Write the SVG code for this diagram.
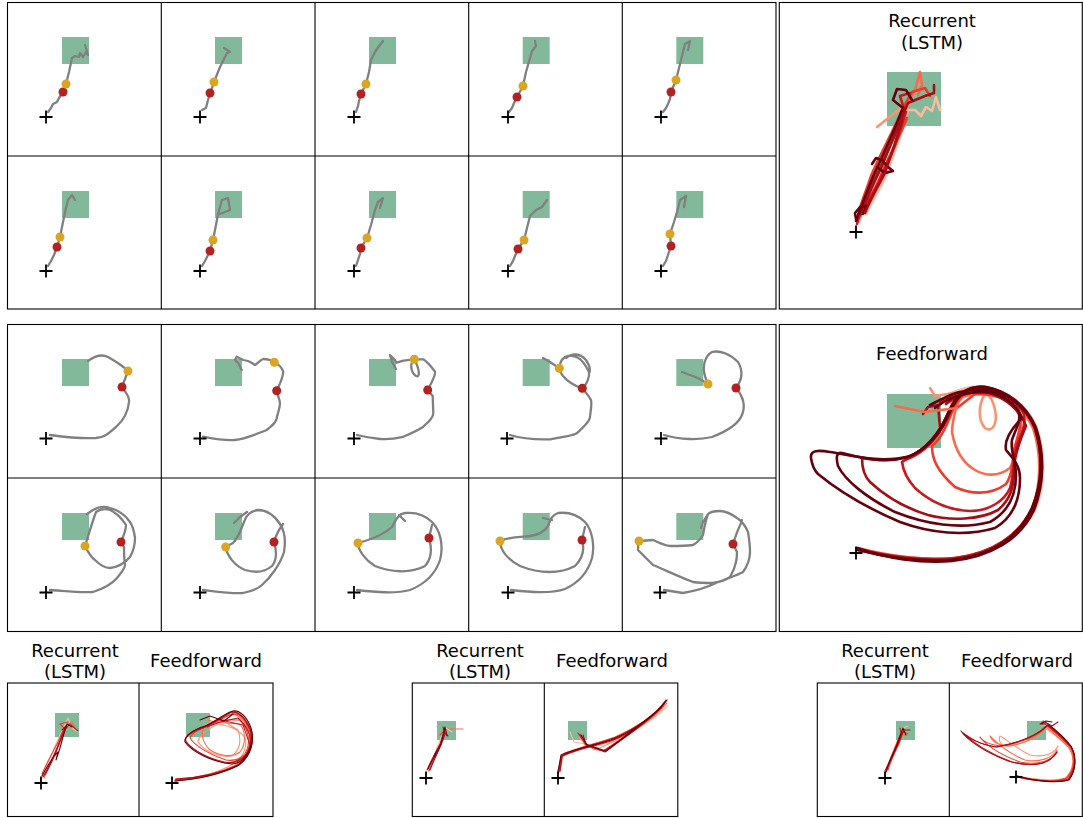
<svg xmlns="http://www.w3.org/2000/svg" xmlns:xlink="http://www.w3.org/1999/xlink" width="1083" height="818" viewBox="0 0 1083 818">
<style>
.frame{fill:none;stroke:#000;stroke-width:1.1}
.tr{fill:none;stroke:#808080;stroke-width:2.3;stroke-linejoin:round;stroke-linecap:round}
.goal{fill:#82b99a}
.pa{fill:#daa520}
.pb{fill:#b22222}
.plus{fill:none;stroke:#000;stroke-width:1.8}
.t{font-family:"DejaVu Sans",Verdana,sans-serif;font-size:18px;text-anchor:middle;fill:#000}
.r{fill:none;stroke-linejoin:round;stroke-linecap:round}
.w{stroke-width:2.6}
.n{stroke-width:1.1}
.c1{stroke:#fcbba1}.c2{stroke:#fc9272}.c3{stroke:#fb6a4a}.c4{stroke:#ef3b2c}.c5{stroke:#cb181d}.c6{stroke:#a50f15}.c7{stroke:#67000d}
</style>
<defs>
<path id="pl" class="plus" d="M-6.5,0H6.5M0,-6.5V6.5"/>
</defs>
<rect width="1083" height="818" fill="#fff"/>

<g id="frames">
<rect class="frame" x="7.5" y="2.5" width="768.5" height="306.5"/>
<path class="frame" d="M161.3,2.5V309M315,2.5V309M468.7,2.5V309M622.3,2.5V309M7.5,156H776"/>
<rect class="frame" x="7.5" y="324.5" width="768.5" height="307"/>
<path class="frame" d="M161.3,324.5V631.5M315,324.5V631.5M468.7,324.5V631.5M622.3,324.5V631.5M7.5,478H776"/>
<rect class="frame" x="779.3" y="2.5" width="303" height="306.5"/>
<rect class="frame" x="779.3" y="324.5" width="303" height="307"/>
<rect class="frame" x="7.5" y="683" width="265.5" height="133.5"/>
<path class="frame" d="M139,683V816.5"/>
<rect class="frame" x="412.3" y="683" width="265.5" height="133.5"/>
<path class="frame" d="M544.3,683V816.5"/>
<rect class="frame" x="817.3" y="683" width="265" height="133.5"/>
<path class="frame" d="M949.3,683V816.5"/>
</g>

<!-- top block row 1 -->
<g id="t1"><rect class="goal" x="62" y="37" width="27" height="27"/><path class="tr" d="M48,112L51,108L53,104L57,102L59,98L61,95L63,92L66,84L69,72L72,58L75,56L79,57L80,53L83,57L86,52L88,55L85,45"/><circle class="pb" cx="63" cy="92" r="4.5"/><circle class="pa" cx="66" cy="84" r="4.5"/><use href="#pl" x="46" y="117"/></g>
<g id="t2"><rect class="goal" x="215" y="37" width="27" height="27"/><path class="tr" d="M202,110L206,108L208,100L210,94L214,82L220,67L227,53L230,52L224,48"/><circle class="pb" cx="210" cy="93" r="4.5"/><circle class="pa" cx="214" cy="82" r="4.5"/><use href="#pl" x="200" y="117"/></g>
<g id="t3"><rect class="goal" x="369" y="37" width="27" height="27"/><path class="tr" d="M356,112L358,106L359,101L361,94L366,84L369,72L371,60L375,52L379,46L383,41L380,45"/><circle class="pb" cx="361" cy="94" r="4.5"/><circle class="pa" cx="366" cy="84" r="4.5"/><use href="#pl" x="354" y="117"/></g>
<g id="t4"><rect class="goal" x="522.7" y="37" width="27" height="27"/><path class="tr" d="M509,112L512,108L514,103L517,97L523,86L526,72L530,58L532,51L536,46L535,41"/><circle class="pb" cx="517" cy="97" r="4.5"/><circle class="pa" cx="523" cy="86" r="4.5"/><use href="#pl" x="508" y="117"/></g>
<g id="t5"><rect class="goal" x="676.3" y="37" width="27" height="27"/><path class="tr" d="M663,112L666,108L668,104L670,99L671,92L676,80L680,64L683,52L685,44L690,41L688,50"/><circle class="pb" cx="671" cy="92" r="4.5"/><circle class="pa" cx="676" cy="80" r="4.5"/><use href="#pl" x="661" y="117"/></g>
<!-- top block row 2 -->
<g id="t6"><rect class="goal" x="62" y="191" width="27" height="27"/><path class="tr" d="M48,266L51,261L54,255L57,247L60,237L63,222L66,208L68,200L72,195L75,200"/><circle class="pb" cx="57" cy="247" r="4.5"/><circle class="pa" cx="60" cy="237" r="4.5"/><use href="#pl" x="46" y="271"/></g>
<g id="t7"><rect class="goal" x="215" y="191" width="27" height="27"/><path class="tr" d="M202,266L205,261L207,257L210,251L213,240L216,225L218,214L222,200L228,198L230,210L220,214"/><circle class="pb" cx="210" cy="251" r="4.5"/><circle class="pa" cx="213" cy="240" r="4.5"/><use href="#pl" x="200" y="271"/></g>
<g id="t8"><rect class="goal" x="369" y="191" width="27" height="27"/><path class="tr" d="M356,266L358,260L360,254L361,248L367,238L371,225L375,210L378,202L383,198L380,208"/><circle class="pb" cx="361" cy="248" r="4.5"/><circle class="pa" cx="367" cy="238" r="4.5"/><use href="#pl" x="354" y="271"/></g>
<g id="t9"><rect class="goal" x="522.7" y="191" width="27" height="27"/><path class="tr" d="M510,266L513,261L515,256L518,249L524,240L527,228L530,216L536,210L542,207L547,200"/><circle class="pb" cx="518" cy="249" r="4.5"/><circle class="pa" cx="524" cy="240" r="4.5"/><use href="#pl" x="508" y="271"/></g>
<g id="t10"><rect class="goal" x="676.3" y="191" width="27" height="27"/><path class="tr" d="M663,266L666,261L668,255L671,246L670,234L674,222L677,212L680,200L686,196L684,207"/><circle class="pb" cx="671" cy="246" r="4.5"/><circle class="pa" cx="670" cy="234" r="4.5"/><use href="#pl" x="661" y="271"/></g>

<!-- middle block row 1 -->
<g id="m1"><rect class="goal" x="62" y="359" width="27" height="27"/><path class="tr" d="M50,435C65,437 80,439 96,438C106,437 110,432 116,427C124,420 128,412 129,402C130,396 125,392 122,387L128,371C122,365 115,361 108,357C102,354 96,355 88,361"/><circle class="pb" cx="122" cy="387" r="4.5"/><circle class="pa" cx="128" cy="371" r="4.5"/><use href="#pl" x="46" y="438.5"/></g>
<g id="m2"><rect class="goal" x="215" y="359" width="27" height="27"/><path class="tr" d="M203,436.7C215,439 225,441 235,440C246,439 256,434 266.7,430C274,424 277,421 277,416.7C279,410 280,406 280,403C279,397 277,394 276.7,390.7C279,386 283,377 283.3,371.7C282,368 278,364 274.3,362.3C270,359 266,359 263.3,359C260,360 257,364 255,365C253,364 251,362 248,361L243.3,360L236.7,356.7L235,360L238.3,363.3L241.7,370"/><circle class="pb" cx="276.7" cy="390.7" r="4.5"/><circle class="pa" cx="274.3" cy="362.3" r="4.5"/><use href="#pl" x="200" y="438.5"/></g>
<g id="m3"><rect class="goal" x="369" y="359" width="27" height="27"/><path class="tr" d="M357,435C365,437 370,438 380,439C392,440 398,438 403.3,436.7C412,433 420,429 423.3,426.7C430,421 433.3,416 433.3,413.3L432.7,396L427.7,390C432,382 436,375 435,371.7C430,365 426,361 423.3,359.3L414.3,359.3C410,362 410,372 416,376C420,378 420,370 414.3,359.3L403.3,360.7L396.7,362.7L393.3,358.3L390,355L392,362L396,369"/><circle class="pb" cx="427.7" cy="390" r="4.5"/><circle class="pa" cx="414.3" cy="359.3" r="4.5"/><use href="#pl" x="354" y="438.5"/></g>
<g id="m4"><rect class="goal" x="522.7" y="359" width="27" height="27"/><path class="tr" d="M510,435C520,438 530,440 550,439.3C565,437 572,436 576.7,433.3C586,425 590,420 590,416.7C591,408 592,404 591,400C588,394 585,392 582.3,388.3C575,386 568,382 563,376C560,372 559,370 559.3,368.3C560,360 563,357 568,356C578,355 583,360 589,372C590,378 586,385 582.3,388.3M566,358C572,353 580,353 586,360C590,366 591,370 589,374M559.3,368.3L550,362L543,358"/><circle class="pb" cx="582.3" cy="388.3" r="4.5"/><circle class="pa" cx="559.3" cy="368.3" r="4.5"/><use href="#pl" x="507" y="438.5"/></g>
<g id="m5"><rect class="goal" x="676.3" y="359" width="27" height="27"/><path class="tr" d="M664,435C680,440 700,440 712,437C725,432 738,425 742,415C746,405 742,395 736,388C742,380 744,372 738,362C730,354 720,350 712,352C705,356 702,366 705,376C706,380 707,382 708,384L698,378L682,372"/><circle class="pb" cx="736" cy="388" r="4.5"/><circle class="pa" cx="708" cy="384" r="4.5"/><use href="#pl" x="661" y="438.5"/></g>
<!-- middle block row 2 -->
<g id="m6"><rect class="goal" x="62" y="513" width="27" height="27"/><path class="tr" d="M50,590C65,591 80,593 93,592C105,588 112,584 117,578C122,572 125,568 125,565C124,558 124,552 124,547L121,542C124,535 126,528 126,525C122,518 115,512 110,510C104,508 100,509 96,512C93,520 90,530 85,546C88,552 92,558 95,560C100,565 105,568 110,568C118,567 125,563 130,557C134,550 135,543 135,538C134,530 132,525 130,522C125,515 118,510 110,508C104,506 98,507 93,510L87,514"/><circle class="pb" cx="121" cy="542" r="4.5"/><circle class="pa" cx="85" cy="546" r="4.5"/><use href="#pl" x="46" y="592.5"/></g>
<g id="m7"><rect class="goal" x="215" y="513" width="27" height="27"/><path class="tr" d="M203,590C220,592 235,594 243,593C252,591 258,589 262,585C270,578 280,565 284,552C286,540 284,530 280,524C274,515 266,510 258,510C250,511 246,515 244,522C241,530 238,538 233,543L225.7,547C227,556 235,566 245,570C255,573 265,572 272,566C277,560 277,552 274,542C276,535 280,528 283,524M234,523L240,517L247,512"/><circle class="pb" cx="274" cy="542" r="4.5"/><circle class="pa" cx="225.7" cy="547" r="4.5"/><use href="#pl" x="200" y="592.5"/></g>
<g id="m8"><rect class="goal" x="369" y="513" width="27" height="27"/><path class="tr" d="M357,590C375,592 395,594 410,590C425,584 435,575 440,560C444,545 440,530 432,522C425,515 415,512 405,513C398,514 396,520 392,527C385,533 375,538 365,541L358,543C358,550 365,560 375,566C390,572 410,574 425,566C432,558 432,548 429,538L432,525M399,515L405,521"/><circle class="pb" cx="429" cy="538" r="4.5"/><circle class="pa" cx="358" cy="543" r="4.5"/><use href="#pl" x="354" y="592.5"/></g>
<g id="m9"><rect class="goal" x="522.7" y="513" width="27" height="27"/><path class="tr" d="M511,590C530,592 550,594 565,589C578,583 588,572 592,558C595,545 592,530 585,522C577,514 567,512 558,513C552,515 550,520 548,526C544,532 538,535 530,536C520,537 508,537 500,541C500,550 508,560 520,566C540,574 560,574 575,566C583,558 585,550 582,540L585,527M543,518L552,520"/><circle class="pb" cx="582" cy="540" r="4.5"/><circle class="pa" cx="500" cy="541" r="4.5"/><use href="#pl" x="508" y="592.5"/></g>
<g id="m10"><rect class="goal" x="676.3" y="513" width="27" height="27"/><path class="tr" d="M664,590L683,593C700,590 710,586 716,583C728,578 738,575 743,572C748,565 750,558 750,552C750,545 749,538 748,532C745,525 742,521 737,518C730,513 725,511 720,511C715,511 710,512 708,514C705,522 704,530 703,535C700,540 697,543 693,545C685,546 678,546 670,546C663,545 658,542 653,540L639,541C638,545 638,548 638,550C643,555 648,560 653,565C665,570 680,577 693,582C700,583 707,583 713,583C720,582 726,580 730,577C733,572 735,567 736,562C737,558 737,555 737,552L733,544C735,538 737,532 738,530C740,526 741,523 742,520M708,514L703,522L701,528"/><circle class="pb" cx="733" cy="544" r="4.5"/><circle class="pa" cx="639" cy="541" r="4.5"/><use href="#pl" x="660" y="592.5"/></g>

<!-- big LSTM panel -->
<g id="bigLSTM">
<text class="t" x="932" y="27">Recurrent</text>
<text class="t" x="932" y="49">(LSTM)</text>
<rect class="goal" x="887" y="72" width="54" height="54"/>
<path class="r w c1" d="M859,222C866,200 872,186 880,168C888,150 896,130 906,110L915,110L921,116L926,107L932,111L936,97L940,110"/>
<path class="r w c1" d="M866,214C872,200 880,190 886,175C892,160 897,145 903,128L908,110"/>
<path class="r w c2" d="M857,219C862,202 869,184 879,164C889,144 898,124 911,100L877,127"/>
<path class="r w c3" d="M860,217C866,203 872,186 880,170C887,152 896,129 906,105L915,90L920,72L922,85L918,95"/>
<path class="r w c4" d="M858,215C861,202 866,192 871,176C879,156 891,136 903,108L912,92L925,88L930,96"/>
<path class="r w c4" d="M862,210C870,198 878,185 883,170C890,155 900,135 907,118"/>
<path class="r w c5" d="M857,224C861,210 866,196 874,180C884,160 893,140 905,112L900,96L910,93"/>
<path class="r w c5" d="M864,212C868,200 874,192 879,182C884,170 890,158 894,148C898,138 902,124 906,112"/>
<path class="r w c6" d="M861,214C866,200 874,182 882,166C890,146 898,126 908,103L925,96L934,93L934,85"/>
<path class="r w c7" d="M856,221C862,205 867,190 876,170C882,158 887,146 894,130L903,108L893,100L897,89L906,90L912,100"/>
<path class="r w c7" d="M856,219L855,213L860,207L867,206L863,214M872,164L876,158L882,160L888,167L893,171L885,173L877,167"/>
<path class="r w c6" d="M865,213C870,200 877,188 884,175C890,160 896,140 902,120"/>
<use href="#pl" x="856" y="232"/>
</g>

<!-- big Feedforward panel -->
<g id="bigFF">
<text class="t" x="932" y="360">Feedforward</text>
<rect class="goal" x="887" y="394" width="54" height="54"/>
<path class="r w c1" d="M858,549C885,558 922,563 952,560C992,556 1022,538 1036,508C1046,482 1045,450 1036,426C1026,404 1005,390 985,387C968,385 955,392 945,395"/>
<path class="r w c2" d="M985,394C978,405 978,420 985,428C992,433 998,424 995,410C993,400 990,395 985,394M930,388L935,396L960,392"/>
<path class="r w c3" d="M857,550C888,557 925,561 955,558C990,554 1018,537 1032,508C1042,483 1041,452 1033,428C1022,405 1003,391 985,389C968,389 958,398 955,412C952,425 952,430 952,432C955,450 963,463 975,470C985,476 998,477 1010,468C1016,458 1016,440 1020,430C1024,418 1015,402 1000,396C985,392 965,394 950,402"/>
<path class="r w c4" d="M858,548C888,556 925,561 955,558C992,554 1020,536 1033,506C1043,480 1042,450 1034,426C1024,404 1004,391 985,388C968,388 958,396 952,412C946,428 940,440 932,446C932,458 936,470 955,487C970,494 990,496 1006,484C1012,475 1013,462 1014,450C1016,440 1024,425 1018,410C1008,398 990,393 975,394L957,408"/>
<path class="r w c5" d="M857,549C888,557 926,562 956,558C993,553 1021,535 1034,505C1044,478 1043,450 1035,426C1025,403 1005,390 985,387C968,386 958,394 950,412C943,430 930,448 914,456C908,459 904,460 902,462C903,470 906,478 915,488C928,500 945,510 970,511C990,511 1005,500 1010,488C1014,475 1013,460 1017,445C1022,432 1028,420 1022,410C1010,397 995,391 978,391C960,392 945,400 940,402"/>
<path class="r w c6" d="M858,549C888,557 925,562 955,559C992,555 1020,537 1033,507C1043,481 1043,452 1035,428C1025,405 1005,391 985,387C968,385 957,393 949,411C941,430 928,449 908,457C890,462 875,460 862,458C862,468 864,476 870,482C885,496 905,508 928,515C950,521 980,520 998,510C1010,500 1014,488 1014,470C1014,455 1020,440 1026,426C1020,410 1005,398 990,393C970,389 952,398 946,404M923,414L928,407L938,405L940,427"/>
<path class="r w c7" d="M857,548C885,558 922,564 952,561C990,557 1020,540 1034,510C1045,482 1044,452 1036,428C1026,405 1006,391 986,387C969,385 957,393 949,411C941,430 928,449 908,457C882,464 858,457 842,453C836,452 836,458 838,466C845,480 865,497 895,512C925,524 960,530 990,522C1008,512 1016,495 1016,475C1016,462 1010,450 1012,440C1016,428 1022,420 1018,410C1008,398 995,392 980,392C960,393 945,400 935,408"/>
<path class="r w c7" d="M858,550C885,557 920,562 950,560C990,556 1018,538 1032,508C1043,482 1043,452 1035,428C1025,405 1005,392 985,388C968,386 958,394 950,412C942,430 930,448 910,456C880,464 850,455 830,452C818,450 810,450 811,458C812,465 814,470 818,474C835,488 860,505 900,522C930,533 965,537 995,528C1012,518 1020,500 1020,478C1020,465 1012,457 1006,450C1004,440 1012,428 1022,418C1018,405 1000,393 985,390C965,388 950,395 940,400L930,405"/>
<path class="r w c3" d="M895,406L925,412L957,408"/>
<use href="#pl" x="856" y="553"/>
</g>

<!-- bottom panel 1 -->
<g id="b1">
<text class="t" x="75" y="657">Recurrent</text>
<text class="t" x="75" y="678">(LSTM)</text>
<text class="t" x="206" y="667">Feedforward</text>
<rect class="goal" x="55" y="713" width="24" height="24"/>
<path class="r n c1" d="M43,776C48,762 54,748 60,735L68,718L72,728L78,732"/>
<path class="r n c3" d="M44,778C50,764 56,752 61,740L66,726L72,722L75,728"/>
<path class="r n c4" d="M42,774C48,760 53,752 58,742L64,728L60,724L68,722"/>
<path class="r n c5" d="M45,775C50,766 55,756 59,744L65,729L70,724L78,731"/>
<path class="r n c6" d="M43,777C48,768 53,758 57,748C60,740 63,733 66,726L62,730"/>
<path class="r n c7" d="M42,776C46,768 50,762 54,756L58,752L56,760L60,748C62,740 64,733 67,724L72,727"/>
<rect class="goal" x="186" y="713" width="24" height="24"/>
<path class="r n c1" d="M175,780C195,778 215,775 232,768C246,760 252,748 250,735C248,724 240,716 232,714L205,725"/>
<path class="r n c2" d="M175,779C200,778 220,772 235,763C245,755 247,745 245,738C240,730 230,726 218,724C205,730 198,738 198,742C205,752 220,758 232,756C240,750 242,742 238,730L225,722"/>
<path class="r n c3" d="M176,780C198,778 218,773 234,766C247,758 252,745 249,732C245,720 238,713 230,714C222,718 215,722 205,726C200,732 202,742 210,750C220,756 232,758 240,752C246,744 246,732 240,724L215,722L208,720"/>
<path class="r n c4" d="M175,781C198,779 220,774 236,766C248,758 253,745 250,732C246,720 240,713 233,714C226,716 220,720 213,724C202,728 192,732 190,738C195,746 210,755 226,760C238,762 246,756 248,746C250,736 246,726 240,720L218,720"/>
<path class="r n c5" d="M175,780C197,778 220,774 237,766C250,757 255,743 251,730C246,719 239,712 232,712C225,714 216,722 205,727C194,731 186,735 185,740C190,748 205,758 225,763C240,763 248,755 250,745L243,725L220,720"/>
<path class="r n c6" d="M176,779C198,778 221,773 238,765C250,756 254,742 250,729C245,718 238,711 231,712C222,717 210,726 198,729C190,732 184,737 186,742C192,750 210,760 230,763C242,762 248,754 250,745C252,735 246,725 238,718L220,722L207,727"/>
<path class="r n c7" d="M175,781C199,779 222,774 239,765C251,756 255,741 251,728C247,717 240,710 233,711C225,713 218,720 205,726C192,730 184,737 185,742C192,752 212,762 232,764C244,763 250,752 252,742M233,714L224,721L210,716L200,720"/>
<use href="#pl" x="41" y="783"/>
<use href="#pl" x="172" y="783"/>
</g>

<!-- bottom panel 2 -->
<g id="b2">
<text class="t" x="480" y="657">Recurrent</text>
<text class="t" x="480" y="678">(LSTM)</text>
<text class="t" x="612" y="667">Feedforward</text>
<rect class="goal" x="437" y="721" width="19" height="19"/>
<path class="r n c3" d="M445,729L463,729"/>
<path class="r n c1" d="M428,772C432,760 437,748 441,738L446,728L452,732"/>
<path class="r n c4" d="M429,771C433,760 438,750 442,740L445,730L440,735"/>
<path class="r n c5" d="M427,770C432,758 436,752 440,744L444,732L448,736"/>
<path class="r n c6" d="M430,770C434,760 437,754 441,745L445,734L443,727"/>
<path class="r n c7" d="M428,769C432,760 436,754 438,750L434,756L441,744L445,727L447,736"/>
<rect class="goal" x="568" y="721" width="19" height="19"/>
<path class="r n c1" d="M560,771L562,755C570,750 590,748 610,742C630,734 650,722 668,706L650,718C630,730 610,744 596,746L574,742L570,732"/>
<path class="r n c2" d="M559,770L561,756C572,749 592,746 612,740C635,731 654,718 665,705L655,716C640,728 622,738 600,748L585,745L578,735"/>
<path class="r n c3" d="M560,772L563,754C575,748 595,744 615,737C636,728 656,714 667,703L660,710C644,724 625,738 605,750C595,752 588,748 582,738"/>
<path class="r n c4" d="M558,771L562,756C572,750 593,746 612,740C634,732 655,716 666,701L654,714C638,728 620,740 603,751L587,746L580,734"/>
<path class="r n c5" d="M559,772L561,757C573,750 591,747 611,741C633,733 654,718 664,703L657,712C642,726 623,739 604,751L586,745L578,733"/>
<path class="r n c6" d="M560,771L562,756C574,749 594,745 614,738C636,729 656,714 666,700L659,709C643,724 624,738 605,752L586,744L583,735"/>
<path class="r n c7" d="M558,772L561,755C571,750 592,746 611,740C634,731 655,716 667,700L661,708C644,722 624,737 606,751L587,745L581,735"/>
<use href="#pl" x="426" y="778"/>
<use href="#pl" x="558" y="778"/>
</g>

<!-- bottom panel 3 -->
<g id="b3">
<text class="t" x="885" y="657">Recurrent</text>
<text class="t" x="885" y="678">(LSTM)</text>
<text class="t" x="1017" y="667">Feedforward</text>
<rect class="goal" x="896" y="721" width="19" height="19"/>
<path class="r n c1" d="M887,771C891,760 896,750 899,740L903,728L908,726"/>
<path class="r n c3" d="M886,772C889,760 893,752 897,742L902,730L905,736"/>
<path class="r n c4" d="M888,770C891,760 895,752 899,744L903,732L908,734"/>
<path class="r n c5" d="M885,771C889,762 893,754 896,746L901,733L900,728"/>
<path class="r n c6" d="M887,769C890,760 894,752 898,744L904,730L910,730"/>
<path class="r n c7" d="M886,772C889,762 893,754 895,750L892,757L897,745L903,728L906,735"/>
<rect class="goal" x="1027" y="721" width="19" height="19"/>
<path class="r n c1" d="M1018,776C1035,780 1055,781 1065,778C1074,770 1076,758 1070,748C1062,740 1055,734 1048,726L1040,724"/>
<path class="r n c2" d="M1018,777C1035,781 1056,782 1066,779C1075,771 1076,758 1069,748C1062,740 1056,736 1045,728C1038,738 1025,744 1005,746C1000,744 998,740 1000,736C1005,738 1015,748 1030,755C1045,758 1055,753 1058,746"/>
<path class="r n c3" d="M1017,776C1036,781 1056,782 1066,778C1074,770 1075,757 1069,748C1062,740 1055,734 1046,727C1040,735 1030,742 1010,746C1000,746 992,742 990,736C994,740 1005,752 1025,760C1040,763 1052,758 1057,750"/>
<path class="r n c4" d="M1018,777C1036,782 1057,782 1067,778C1075,770 1076,756 1070,747C1063,739 1056,733 1047,726C1040,734 1028,742 1000,746C990,745 982,741 980,737C985,744 998,754 1020,762C1040,766 1052,760 1057,752"/>
<path class="r n c5" d="M1017,777C1037,782 1058,783 1068,779C1075,770 1077,756 1071,747C1063,738 1056,732 1047,725C1040,733 1025,742 997,747C980,745 970,738 963,733C972,742 990,754 1012,762C1036,768 1050,763 1057,752"/>
<path class="r n c6" d="M1016,776C1036,781 1058,783 1068,780C1076,771 1077,757 1071,747C1064,738 1057,732 1048,725C1040,733 1024,742 996,747C978,744 966,737 961,731C967,740 985,752 1008,761C1034,768 1050,764 1057,752"/>
<path class="r n c7" d="M1017,776C1038,782 1058,783 1069,780C1076,771 1077,757 1071,746C1064,737 1057,731 1048,724L1040,724L1046,721L1052,722"/>
<path class="r n c6" d="M1043,721L1052,726L1058,722"/>
<use href="#pl" x="885" y="778"/>
<use href="#pl" x="1016" y="777"/>
</g>
</svg>
